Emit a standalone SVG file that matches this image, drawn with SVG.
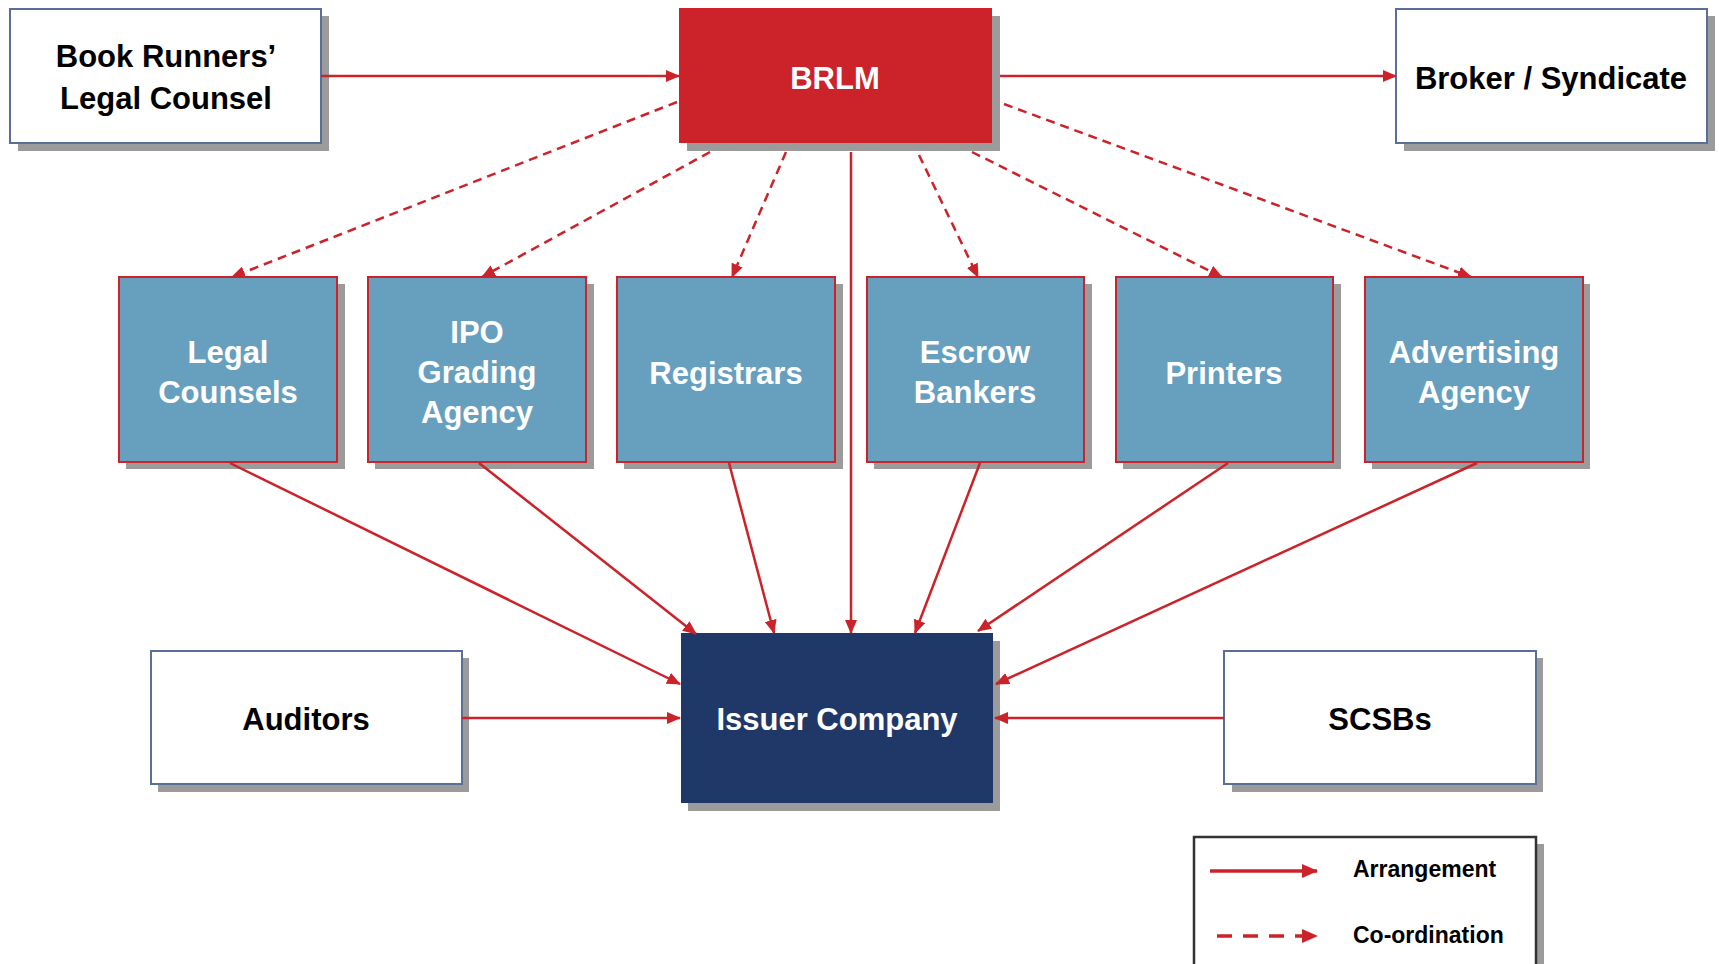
<svg xmlns="http://www.w3.org/2000/svg" width="1719" height="964" viewBox="0 0 1719 964">
<style>
.shadow{fill:#9b9b9b}
.white{fill:#ffffff;stroke:#5b6e98;stroke-width:2}
.blue{fill:#67a0bf;stroke:#cc2229;stroke-width:2}
.red{fill:#cc232a}
.navy{fill:#1f3868}
.legend{fill:#ffffff;stroke:#333333;stroke-width:2.5}
text{font-family:"Liberation Sans",Arial,sans-serif;font-weight:bold;text-anchor:middle}
.dk{fill:#000000;font-size:31px}
.wt{fill:#ffffff;font-size:31px}
.lg{fill:#000000;font-size:23px;text-anchor:start}
.solid{stroke:#cc2229;stroke-width:2.5;fill:none}
.dash{stroke:#cc2229;stroke-width:2.5;fill:none;stroke-dasharray:9 6}
</style>
<defs>
<marker id="ah" viewBox="0 0 14 12" refX="13" refY="6" markerWidth="14" markerHeight="12" markerUnits="userSpaceOnUse" orient="auto">
<path d="M0,0 L14,6 L0,12 Z" fill="#cc2229"/>
</marker>
<marker id="ahL" viewBox="0 0 16 14" refX="15" refY="7" markerWidth="16" markerHeight="14" markerUnits="userSpaceOnUse" orient="auto">
<path d="M0,0 L16,7 L0,14 Z" fill="#cc2229"/>
</marker>
</defs>
<rect width="1719" height="964" fill="#ffffff"/>

<g id="book-runners-legal-counsel">
<rect class="shadow" x="18" y="16" width="311" height="135"/>
<rect class="white" x="10" y="9" width="311" height="134"/>
<text class="dk" x="166" y="67">Book Runners’</text>
<text class="dk" x="166" y="109">Legal Counsel</text>
</g>
<g id="brlm">
<rect class="shadow" x="687" y="16" width="313" height="135"/>
<rect class="red" x="679" y="8" width="313" height="135"/>
<text class="wt" x="835" y="89">BRLM</text>
</g>
<g id="broker-syndicate">
<rect class="shadow" x="1404" y="16" width="311" height="135"/>
<rect class="white" x="1396" y="9" width="311" height="134"/>
<text class="dk" x="1551" y="89">Broker / Syndicate</text>
</g>

<g id="legal-counsels">
<rect class="shadow" x="126" y="284" width="219" height="185"/>
<rect class="blue" x="119" y="277" width="218" height="185"/>
<text class="wt" x="228" y="363">Legal</text>
<text class="wt" x="228" y="403">Counsels</text>
</g>
<g id="ipo-grading-agency">
<rect class="shadow" x="375" y="284" width="219" height="185"/>
<rect class="blue" x="368" y="277" width="218" height="185"/>
<text class="wt" x="477" y="343">IPO</text>
<text class="wt" x="477" y="383">Grading</text>
<text class="wt" x="477" y="423">Agency</text>
</g>
<g id="registrars">
<rect class="shadow" x="624" y="284" width="219" height="185"/>
<rect class="blue" x="617" y="277" width="218" height="185"/>
<text class="wt" x="726" y="384">Registrars</text>
</g>
<g id="escrow-bankers">
<rect class="shadow" x="874" y="284" width="218" height="185"/>
<rect class="blue" x="867" y="277" width="217" height="185"/>
<text class="wt" x="975" y="363">Escrow</text>
<text class="wt" x="975" y="403">Bankers</text>
</g>
<g id="printers">
<rect class="shadow" x="1123" y="284" width="218" height="185"/>
<rect class="blue" x="1116" y="277" width="217" height="185"/>
<text class="wt" x="1224" y="384">Printers</text>
</g>
<g id="advertising-agency">
<rect class="shadow" x="1372" y="284" width="218" height="185"/>
<rect class="blue" x="1365" y="277" width="218" height="185"/>
<text class="wt" x="1474" y="363">Advertising</text>
<text class="wt" x="1474" y="403">Agency</text>
</g>

<g id="auditors">
<rect class="shadow" x="158" y="658" width="311" height="134"/>
<rect class="white" x="151" y="651" width="311" height="133"/>
<text class="dk" x="306" y="730">Auditors</text>
</g>
<g id="issuer-company">
<rect class="shadow" x="688" y="641" width="312" height="170"/>
<rect class="navy" x="681" y="633" width="312" height="170"/>
<text class="wt" x="837" y="730">Issuer Company</text>
</g>
<g id="scsbs">
<rect class="shadow" x="1232" y="658" width="311" height="134"/>
<rect class="white" x="1224" y="651" width="312" height="133"/>
<text class="dk" x="1380" y="730">SCSBs</text>
</g>

<g id="connectors">
<line class="solid" x1="321" y1="76" x2="679" y2="76" marker-end="url(#ah)"/>
<line class="solid" x1="1000" y1="76" x2="1396" y2="76" marker-end="url(#ah)"/>
<line class="solid" x1="851" y1="152" x2="851" y2="633" marker-end="url(#ah)"/>
<line class="dash" x1="677" y1="102" x2="232" y2="277" marker-end="url(#ah)"/>
<line class="dash" x1="710" y1="152" x2="482" y2="277" marker-end="url(#ah)"/>
<line class="dash" x1="786" y1="152" x2="732" y2="277" marker-end="url(#ah)"/>
<line class="dash" x1="919" y1="155" x2="978" y2="277" marker-end="url(#ah)"/>
<line class="dash" x1="972" y1="152" x2="1222" y2="277" marker-end="url(#ah)"/>
<line class="dash" x1="1004" y1="104" x2="1471" y2="277" marker-end="url(#ah)"/>
<line class="solid" x1="230" y1="463" x2="680" y2="684" marker-end="url(#ah)"/>
<line class="solid" x1="479" y1="463" x2="696" y2="634" marker-end="url(#ah)"/>
<line class="solid" x1="729" y1="463" x2="774" y2="633" marker-end="url(#ah)"/>
<line class="solid" x1="980" y1="463" x2="915" y2="633" marker-end="url(#ah)"/>
<line class="solid" x1="1228" y1="463" x2="978" y2="631" marker-end="url(#ah)"/>
<line class="solid" x1="1477" y1="463" x2="996" y2="684" marker-end="url(#ah)"/>
<line class="solid" x1="462" y1="718" x2="680" y2="718" marker-end="url(#ah)"/>
<line class="solid" x1="1224" y1="718" x2="995" y2="718" marker-end="url(#ah)"/>
</g>

<g id="legend">
<rect class="shadow" x="1201" y="844" width="343" height="130"/>
<rect class="legend" x="1194" y="837" width="342" height="130"/>
<line x1="1210" y1="871" x2="1317" y2="871" stroke="#cc2229" stroke-width="3.5" marker-end="url(#ahL)"/>
<line x1="1217" y1="936" x2="1317" y2="936" stroke="#cc2229" stroke-width="3.5" stroke-dasharray="15 11" marker-end="url(#ahL)"/>
<text class="lg" x="1353" y="877">Arrangement</text>
<text class="lg" x="1353" y="943">Co-ordination</text>
</g>
</svg>
